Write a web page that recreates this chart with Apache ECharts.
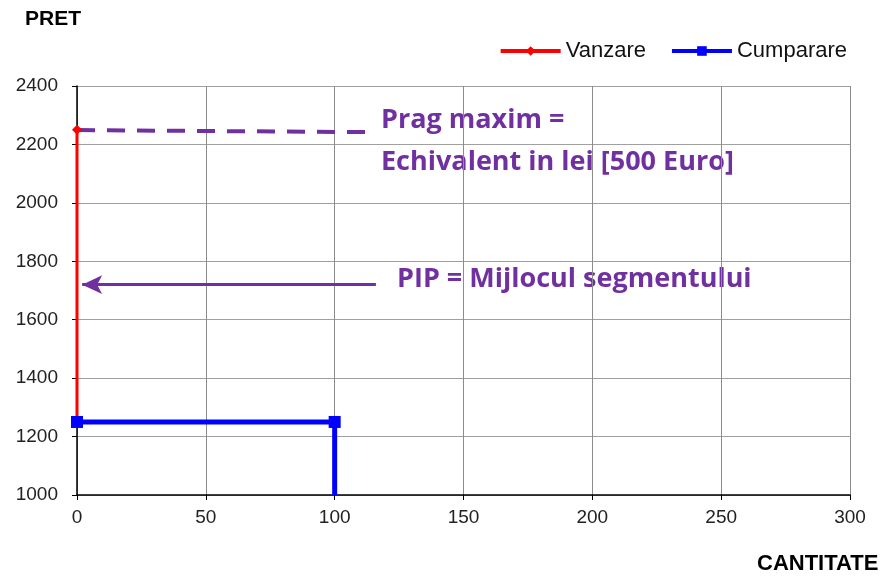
<!DOCTYPE html>
<html><head><meta charset="utf-8">
<script src="https://cdn.jsdelivr.net/npm/echarts@6/dist/echarts.min.js"></script>
<style>html,body{margin:0;padding:0;background:#fff}#c{width:888px;height:578px}</style>
</head><body><div id="c"></div>
<script>
const xTicks = [0, 50, 100, 150, 200, 250, 300];
const yTicks = [1000, 1200, 1400, 1600, 1800, 2000, 2200, 2400];
const vanzare = [[0, 2250], [0, 1250]];
const cumparare = [[0, 1250], [100, 1250], [100, 1000]];
const pragLine = [[0, 2249], [116, 2242]];
const pipArrow = [[116, 1720], [2, 1720]];
const chart = echarts.init(document.getElementById('c'));
const font = 'Liberation Sans, Arial, sans-serif';
const annFont = 'bold 27px Open Sans, sans-serif';
chart.setOption({
  animation: false,
  grid: {left: 77, right: 38, top: 86, bottom: 83},
  legend: {
    right: 36, top: 35, itemGap: 24, itemWidth: 60, itemHeight: 12,
    textStyle: {fontFamily: font, fontSize: 22, color: '#111', padding: [0, 0, 0, 0]},
    data: [
      {name: 'Vanzare', lineStyle: {width: 4}},
      {name: 'Cumparare', lineStyle: {width: 4}}
    ]
  },
  xAxis: {
    type: 'value', min: 0, max: 300, interval: 50,
    axisLine: {show: true, onZero: false, lineStyle: {color: '#000', width: 1.5}},
    axisTick: {show: true, length: 5, lineStyle: {color: '#000'}},
    axisLabel: {fontFamily: font, fontSize: 19, color: '#222', margin: 13,
      formatter: v => xTicks.includes(v) ? String(v) : ''},
    splitLine: {show: true, lineStyle: {color: '#8c8c8c', width: 1}}
  },
  yAxis: {
    type: 'value', min: 1000, max: 2400, interval: 200,
    axisLine: {show: true, onZero: false, lineStyle: {color: '#000', width: 1.5}},
    axisTick: {show: true, length: 5, lineStyle: {color: '#000'}},
    axisLabel: {fontFamily: font, fontSize: 19, color: '#222', margin: 19,
      formatter: v => yTicks.includes(v) ? String(v) : ''},
    splitLine: {show: true, lineStyle: {color: '#a0a0a0', width: 1}}
  },
  series: [
    {
      name: 'Vanzare', type: 'line', data: vanzare,
      lineStyle: {color: '#ff0000', width: 3}, itemStyle: {color: '#ff0000'},
      symbol: 'diamond', symbolSize: 10, showAllSymbol: true, z: 3
    },
    {
      name: 'Cumparare', type: 'line', data: cumparare,
      lineStyle: {color: '#0000ff', width: 5}, itemStyle: {color: '#0000ff'},
      symbol: 'rect',
      symbolSize: (v, p) => (p && p.dataIndex === 2) ? 0 : 12,
      showAllSymbol: true, z: 4
    },
    {
      name: 'prag', type: 'line', data: pragLine, symbol: 'none',
      lineStyle: {color: '#7030a0', width: 4, type: [18, 12]}, z: 2, silent: true
    },
    {
      name: 'pip', type: 'line', data: [], symbol: 'none', silent: true, z: 2,
      markLine: {
        silent: true, animation: false,
        symbol: ['none', 'arrow'], symbolSize: [14, 20],
        label: {show: false},
        lineStyle: {color: '#7030a0', width: 3, type: 'solid'},
        data: [[{coord: pipArrow[0]}, {coord: pipArrow[1]}]]
      }
    }
  ],
  graphic: [
    {type: 'text', left: 25, top: 9, style: {text: 'PRET', font: 'bold 21px ' + font, fill: '#000'}},
    {type: 'text', left: 757, top: 553, style: {text: 'CANTITATE', font: 'bold 22px ' + font, fill: '#000'}},
    {type: 'text', left: 381, top: 99, style: {text: 'Prag maxim =\nEchivalent in lei [500 Euro]', font: annFont, lineHeight: 42, fill: '#7030a0'}},
    {type: 'text', left: 397, top: 266, style: {text: 'PIP = Mijlocul segmentului', font: annFont, fill: '#7030a0'}}
  ]
});
</script></body></html>
